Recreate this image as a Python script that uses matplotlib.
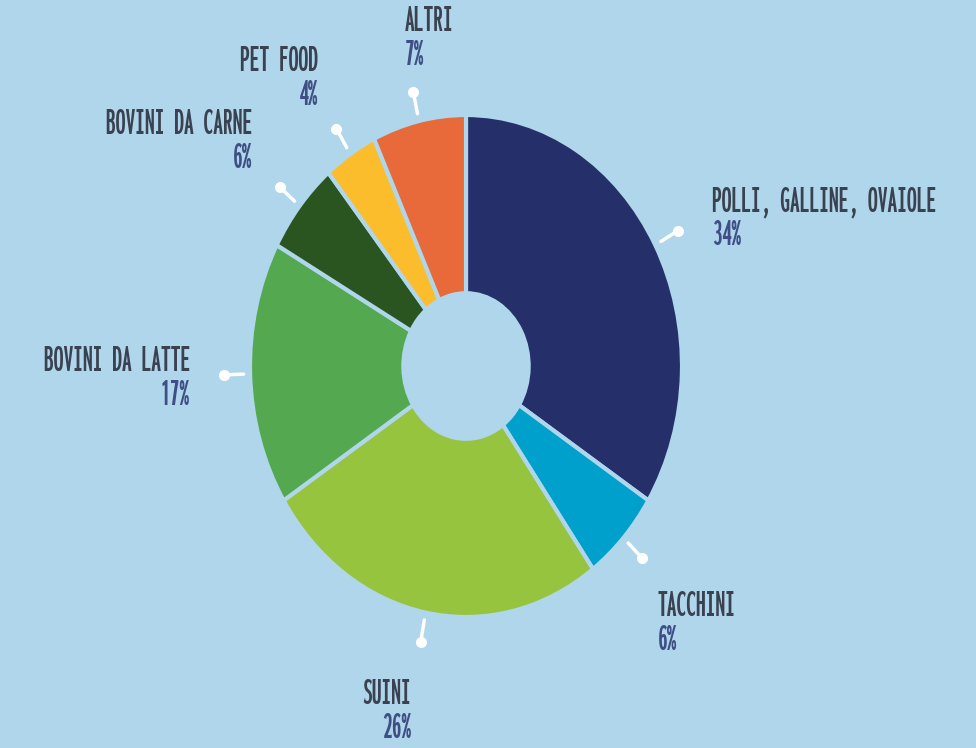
import numpy as np
import matplotlib
matplotlib.use("Agg")
import matplotlib.pyplot as plt
from matplotlib import font_manager as fm

# ---- data ----
categories = ["POLLI, GALLINE, OVAIOLE", "TACCHINI", "SUINI", "BOVINI DA LATTE",
              "BOVINI DA CARNE", "PET FOOD", "ALTRI"]
shares = [34, 6, 26, 17, 6, 4, 7]
pct_labels = ["34%", "6%", "26%", "17%", "6%", "4%", "7%"]
colors = ["#25306b", "#00a0cc", "#97c43e", "#54a84f", "#2b5520", "#fbbd2b", "#e8693a"]

# label text anchors (cap-top, figure pixels from top-left) and alignment
label_pos = [(712, 185), (658, 590), (411, 678), (190, 345), (252, 108), (318, 45), (405, 5)]
label_ha = ["left", "left", "right", "right", "right", "right", "left"]

BG = "#afd6ea"
NAME_C = "#3a4150"
PCT_C = "#3f4f85"


def _weight(w):
    if isinstance(w, str):
        return fm.weight_dict.get(w, 400)
    return int(w)


def _stretch(f):
    fn = f.fname.lower().replace("-", "").replace("_", "")
    nm = f.name.lower().replace(" ", "")
    s = nm + " " + fn
    if "ultracondensed" in s:
        return 1
    if "extracondensed" in s:
        return 2
    if "semicondensed" in s:
        return 4
    if "condensed" in s or "narrow" in s:
        return 3
    st = f.stretch
    if isinstance(st, str):
        v = fm.stretch_dict.get(st, 500)
    else:
        v = int(st)
    return {100: 1, 200: 2, 300: 3, 400: 4}.get(v, 9)


def pick_font():
    cands = []
    for f in fm.fontManager.ttflist:
        fn = f.fname.lower()
        if "oblique" in fn or "italic" in fn or str(f.style) != "normal":
            continue
        if _stretch(f) < 9:
            cands.append(f)
    if cands:
        cands.sort(key=lambda f: (_stretch(f), abs(_weight(f.weight) - 650)))
        return fm.FontProperties(fname=cands[0].fname)
    return fm.FontProperties(family="DejaVu Sans", weight="bold")


W, H = 976, 748
fig = plt.figure(figsize=(W / 100, H / 100), dpi=100, facecolor=BG)

# pie is an ellipse: centre (466, 366) px, rx 216, ry 251
cx, cy, rx, ry = 466, 366, 216, 251
ax = fig.add_axes([(cx - rx) / W, (H - cy - ry) / H, 2 * rx / W, 2 * ry / H])
ax.set_facecolor(BG)
wedges, _ = ax.pie(shares, colors=colors, startangle=90, counterclock=False,
                   radius=1.0, wedgeprops=dict(width=0.71, edgecolor=BG, linewidth=3))
ax.set_xlim(-1, 1)
ax.set_ylim(-1, 1)
ax.set_aspect("auto")
ax.axis("off")

# pins along the mid-angle of each wedge
for w in wedges:
    mid = np.deg2rad((w.theta1 + w.theta2) / 2)
    c, s = np.cos(mid), np.sin(mid)
    ax.plot([1.03 * c, 1.12 * c], [1.03 * s, 1.12 * s], color="white", lw=2.5,
            solid_capstyle="round", clip_on=False)
    ax.plot([1.12 * c], [1.12 * s], "o", color="white", ms=8, mec="none", clip_on=False)

# choose font size so that "BOVINI DA LATTE" is about 170 px wide (cap height limited)
fp = pick_font()
renderer = fig.canvas.get_renderer()
probe = fig.text(0, 0, "BOVINI DA LATTE", fontproperties=fp, fontsize=20)
wpx = probe.get_window_extent(renderer).width
probe.remove()
fs = min(28.0, 20 * 172.0 / wpx)
fp.set_size(fs)
cap_px = 0.72 * fs * 100 / 72
dy = max(0.0, (26 - cap_px) / 2 - 1)

for name, pct, (px, py), ha in zip(categories, pct_labels, label_pos, label_ha):
    fig.text(px / W, 1 - (py + dy) / H, name, ha=ha, va="top", color=NAME_C, fontproperties=fp)
    fig.text(px / W, 1 - (py + 34 + dy) / H, pct, ha=ha, va="top", color=PCT_C, fontproperties=fp)

fig.savefig("out.png", dpi=100, facecolor=BG)
